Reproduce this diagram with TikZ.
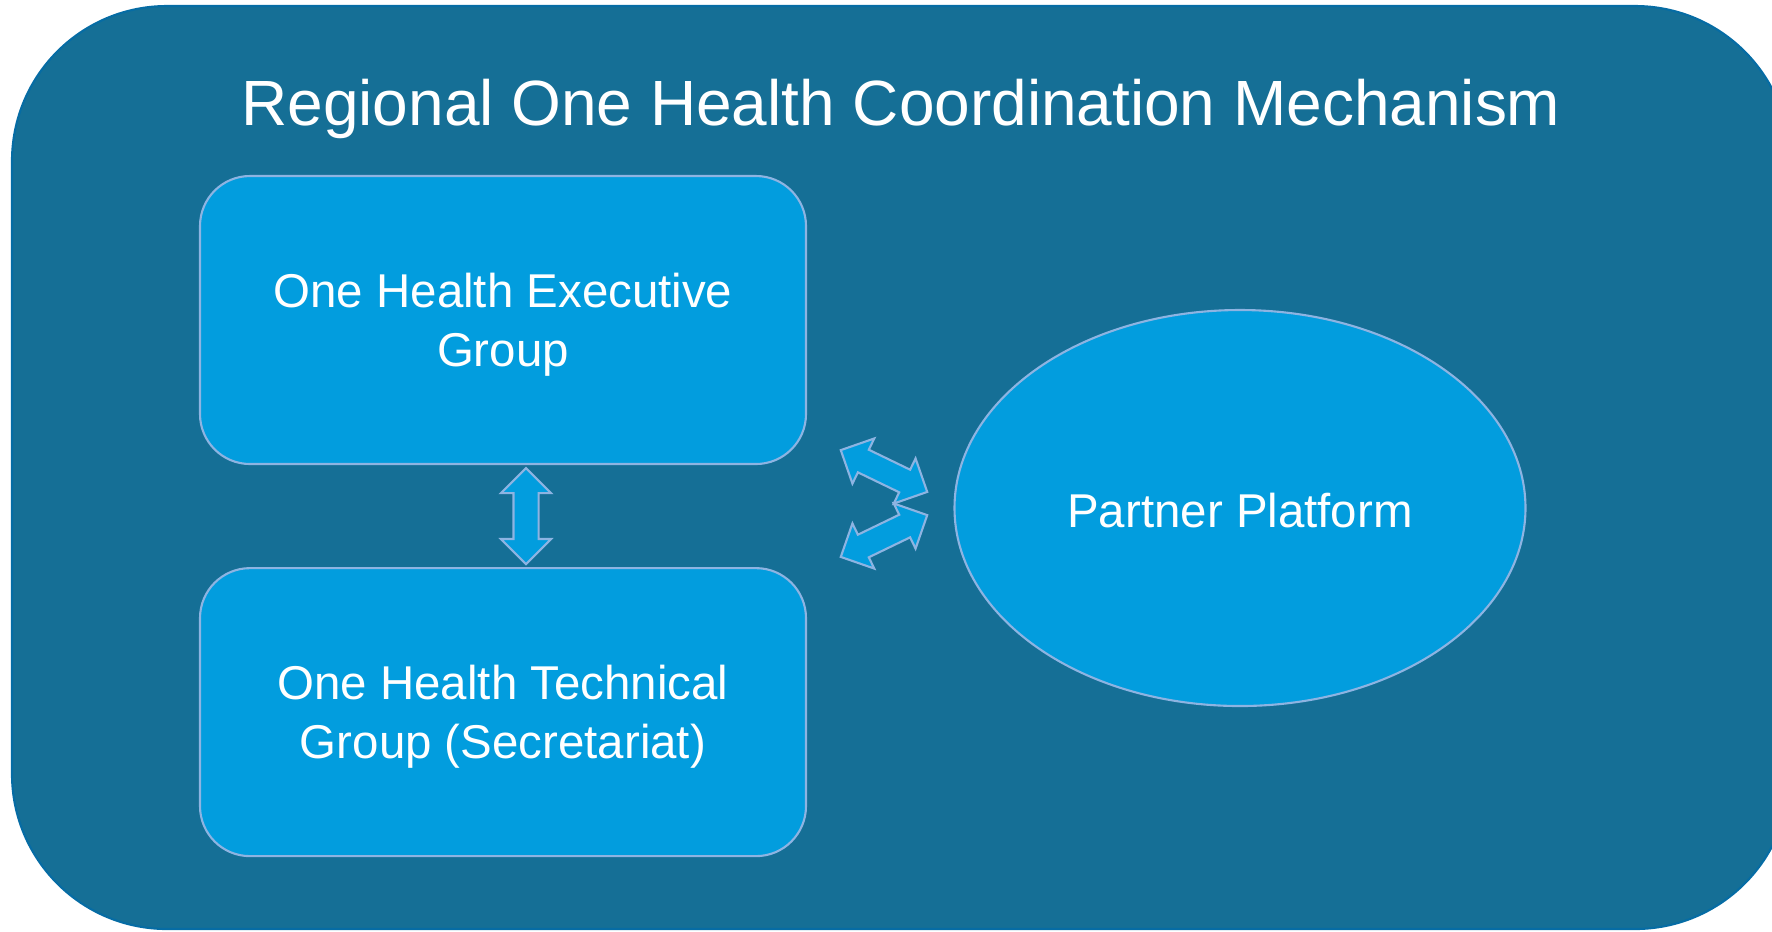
\documentclass[tikz,border=0pt]{standalone}
\usepackage{fontspec}
\setmainfont{Liberation Sans}
\usepackage{tikz}
\usetikzlibrary{calc,shapes.geometric,shapes.arrows}
\usetikzlibrary{positioning}

\definecolor{outerblue}{RGB}{21,111,150}
\definecolor{outerline}{RGB}{6,108,164}
\definecolor{boxblue}{RGB}{2,157,222}
\definecolor{boxline}{RGB}{141,180,226}

\begin{document}
\begin{tikzpicture}[group/.style={rectangle, rounded corners=0.5cm, draw=boxline, fill=boxblue, line width=0.6pt,
        minimum width=6.06cm, minimum height=2.88cm, align=center, text depth=0pt, text=white,
        font=\fontsize{13.5}{16.7}\selectfont},
    platform/.style={ellipse, draw=boxline, fill=boxblue, line width=0.6pt,
        minimum width=5.71cm, minimum height=3.96cm, text height=0.39cm, text=white,
        font=\fontsize{13.5}{16.7}\selectfont},
    link/.style={double arrow, draw=boxline, fill=boxblue, line width=0.6pt, inner xsep=0pt, inner ysep=0.115cm,
        minimum height=0.96cm, double arrow head extend=0.125cm},
    every node/.style={node distance=1.02cm}
    ]
    \useasboundingbox (0,0) rectangle (17.72,-9.31);
    
    % outer frame, it runs past the right edge
    \begin{scope}
    \clip (0,0) rectangle (17.72,-9.31);
    \draw[fill=outerblue, draw=outerline, line width=0.6pt, rounded corners=1.55cm]
    (0.12,-0.06) rectangle (17.90,-9.29);
    \end{scope}
    
    \node[anchor=base, text=white, font=\fontsize{18.2}{22}\selectfont] (title) at (9.01,-1.25)
    {Regional One Health Coordination Mechanism};
    
    % the two groups on the left, one below the other
    \node[group] (exec) at (5.03,-3.20) {One Health Executive\\ Group};
    \node[group, below=of exec] (tech) {One Health Technical\\ Group (Secretariat)};
    
    \node[platform] (partner) at (12.40,-5.08) {Partner Platform};
    
    % block arrows between the groups and to the platform
    \node[link, rotate=90] (updown) at ($(exec.south)!0.5!(tech.north) + (0.23,0)$) {};
    \node[link, rotate=-25.8] (toexec) at (8.84,-4.71) {};
    \node[link, rotate=25.8] (totech) at (8.84,-5.36) {};
    
\end{tikzpicture}
\end{document}
